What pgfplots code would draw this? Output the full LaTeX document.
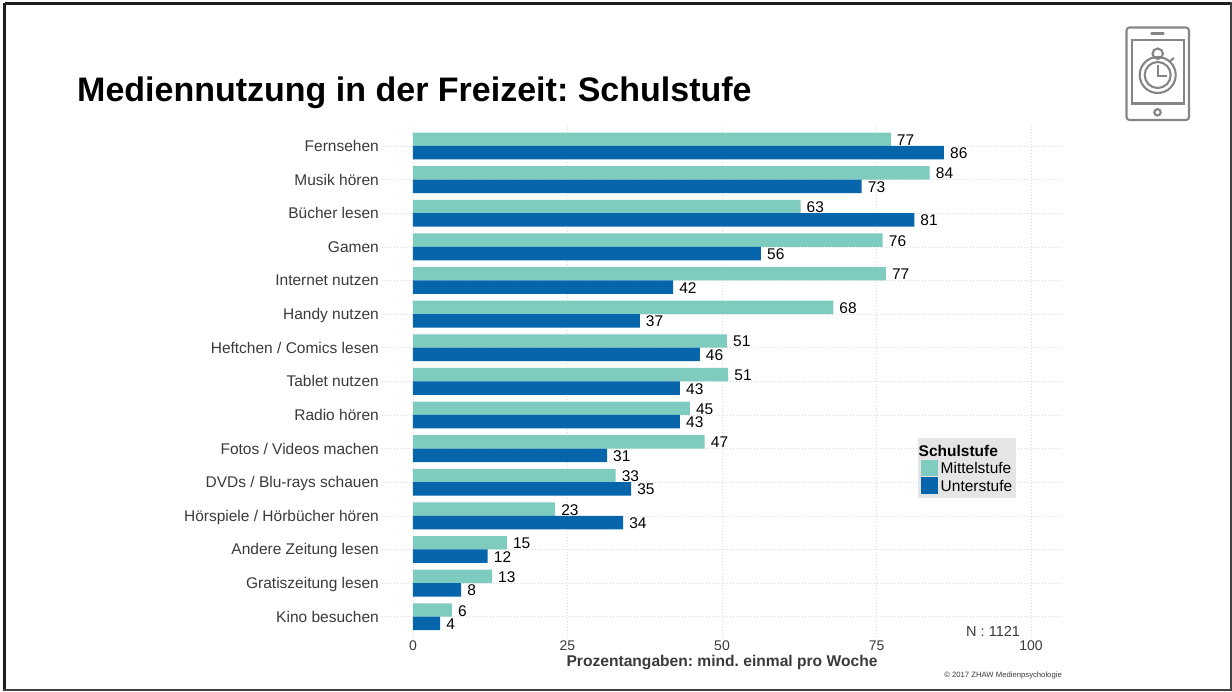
\documentclass[border=0pt]{standalone}
\usepackage{pgfplots}
\pgfplotsset{compat=1.18}
\usepackage{pgfplotstable}
\usepackage{fontspec}
\setmainfont{Liberation Sans}
\frenchspacing
\definecolor{mittel}{HTML}{7ECBC0}
\definecolor{unter}{HTML}{0665AB}
\definecolor{tick}{HTML}{3A3A3A}
\definecolor{icon}{HTML}{858585}
\newcommand{\fs}[1]{\fontsize{#1pt}{#1pt}\selectfont}
\pgfplotstableread{
pos val lab
0 77.3 77
1 83.6 84
2 62.7 63
3 76.0 76
4 76.5 77
5 68.0 68
6 50.8 51
7 51.0 51
8 44.8 45
9 47.2 47
10 32.8 33
11 23.0 23
12 15.2 15
13 12.8 13
14 6.3 6
}\mittelstufe
\pgfplotstableread{
pos val lab
0 85.9 86
1 72.6 73
2 81.1 81
3 56.3 56
4 42.1 42
5 36.7 37
6 46.4 46
7 43.2 43
8 43.2 43
9 31.4 31
10 35.3 35
11 34.0 34
12 12.1 12
13 7.8 8
14 4.4 4
}\unterstufe
\begin{document}
\begin{tikzpicture}
\path[use as bounding box] (0pt,0pt) rectangle (1232pt,-691pt);
\begin{axis}[
  at={(382pt,-636.9pt)}, anchor=south west,
  scale only axis, width=680pt, height=511.1pt,
  xbar, y dir=reverse,
  xmin=-5, xmax=105, ymin=-0.6, ymax=14.6,
  bar width=13.45pt,
  xtick={0,25,50,75,100},
  ytick={0,...,14},
  yticklabels={Fernsehen,Musik hören,Bücher lesen,Gamen,Internet nutzen,Handy nutzen,Heftchen / Comics lesen,Tablet nutzen,Radio hören,Fotos / Videos machen,DVDs / Blu-rays schauen,Hörspiele / Hörbücher hören,Andere Zeitung lesen,Gratiszeitung lesen,Kino besuchen},
  /pgf/number format/assume math mode=true,
  xmajorgrids, ymajorgrids,
  grid style={line width=0.7pt, dash pattern=on 0.9pt off 2.1pt, color=black!14},
  axis line style={draw=none},
  major tick length=0pt,
  tick label style={text=tick},
  yticklabel style={font=\fs{15.5}, inner sep=3pt, text height=11.4pt, text depth=3.4pt, yshift=-1.4pt},
  xticklabel style={font=\fs{14}, inner sep=0pt, yshift=-3.5pt},
  xlabel={\textbf{Prozentangaben: mind. einmal pro Woche}},
  xlabel style={font=\fs{15.6}, text=tick, inner sep=0pt, yshift=-4.5pt},
  nodes near coords,
  point meta=explicit symbolic,
  every node near coord/.append style={font=\fs{15.5}, anchor=west, inner sep=0pt, xshift=6pt, yshift=-0.7pt, text=black},
  legend style={
    at={(0.7875,0.3892)}, anchor=north west, draw=none, fill=black!10,
    font=\fs{15.5}, inner xsep=3.5pt, inner ysep=3.5pt, row sep=0pt, /tikz/every odd column/.style={column sep=2.5pt},
    nodes={inner sep=0pt, minimum height=17.5pt, text depth=0pt}
  },
  legend cell align=left,
  legend image code/.code={\fill[#1] (0pt,-8.2pt) rectangle (17pt,8.2pt);},
]
\addlegendimage{empty legend}
\addlegendentry{\hspace*{-22pt}\textbf{Schulstufe}}
\addplot[fill=mittel, draw=none, bar shift=6.72pt] table[x=val, y=pos, meta=lab] {\mittelstufe};
\addlegendentry{Mittelstufe}
\addplot[fill=unter, draw=none, bar shift=-6.72pt] table[x=val, y=pos, meta=lab] {\unterstufe};
\addlegendentry{Unterstufe}
\end{axis}
\begin{scope}[x=1pt,y=-1pt]
\draw[line width=2.6pt, color=black!88] (4.5,3.2) -- (1231,3.2) (4.5,3.2) -- (4.5,690);
\draw[line width=1.6pt, color=black!75] (3.2,690) -- (1231,690) -- (1231,2);
\node[anchor=base west, inner sep=0pt, font=\fs{34}\bfseries] at (77,101) {Mediennutzung in der Freizeit: Schulstufe};
\node[anchor=base west, inner sep=0pt, font=\fs{14.5}, text=tick] at (966,636) {N : 1121};
\node[anchor=base east, inner sep=0pt, font=\fs{7.7}, text=tick] at (1062,677) {© 2017 ZHAW Medienpsychologie};
% icon
\begin{scope}[color=icon, line width=2.1pt]
\draw[rounded corners=3pt] (1126.5,27.5) rectangle (1189,120);
\draw[line width=2.1pt] (1131.7,39.7) rectangle (1184,103.5);
\draw[line cap=round, line width=2.4pt] (1151.5,33.3) -- (1163.5,33.3);
\draw (1157.5,112.3) circle (3.2);
\draw (1157.7,75) circle (18);
\draw (1157.7,75) circle (13);
\draw (1157.7,53.7) circle (5.2);
\draw (1157.7,64.5) -- (1157.7,76) -- (1167,76);
\draw (1170,61) -- (1174,58);
\end{scope}
\end{scope}
\end{tikzpicture}
\end{document}
